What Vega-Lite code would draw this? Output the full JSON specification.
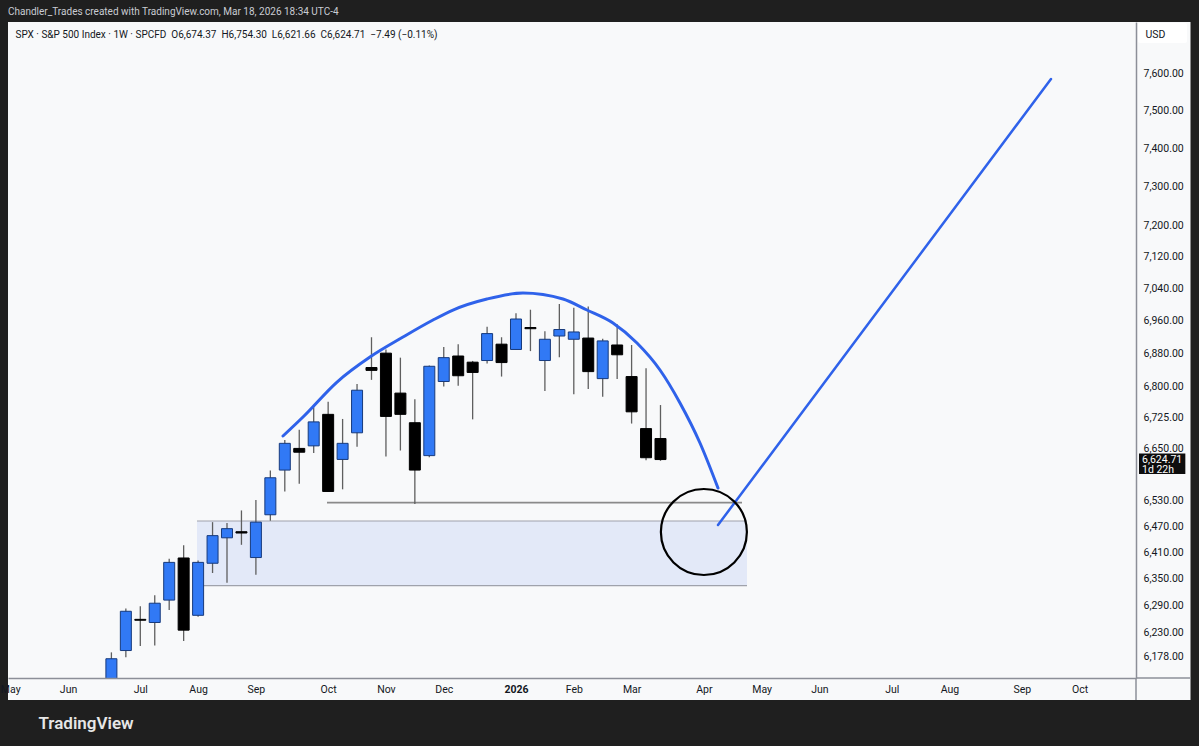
{
  "$schema": "https://vega.github.io/schema/vega-lite/v6.json",
  "width": 1128,
  "height": 656,
  "autosize": {"type": "none"},
  "padding": {"left": 8, "top": 22, "right": 63, "bottom": 68},
  "background": "#1f1f1f",
  "config": {"view": {"stroke": null}, "font": "Roboto"},
  "title": {
    "text": "Chandler_Trades created with TradingView.com, Mar 18, 2026 18:34 UTC-4",
    "subtitle": "\u200b\u00a0\u00a0\u00a0SPX · S&P 500 Index · 1W · SPCFD \u00a0O6,674.37 \u00a0H6,754.30 \u00a0L6,621.66 \u00a0C6,624.71 \u00a0−7.49 (−0.11%)",
    "anchor": "start",
    "frame": "group",
    "orient": "top",
    "offset": -18,
    "font": "Roboto",
    "fontSize": 10,
    "fontWeight": "normal",
    "color": "#c9ccd3",
    "subtitleFont": "Roboto",
    "subtitleFontSize": 10,
    "subtitleColor": "#131722",
    "subtitlePadding": 13
  },
  "datasets": {
    "candles": [
      {"d": "2025-06-23", "o": 5970, "h": 6186, "l": 5943, "c": 6172},
      {"d": "2025-06-30", "o": 6190, "h": 6283, "l": 6175, "c": 6277},
      {"d": "2025-07-07", "o": 6259, "h": 6288, "l": 6200, "c": 6257},
      {"d": "2025-07-14", "o": 6252, "h": 6313, "l": 6201, "c": 6295},
      {"d": "2025-07-21", "o": 6302, "h": 6395, "l": 6280, "c": 6387},
      {"d": "2025-07-28", "o": 6397, "h": 6426, "l": 6211, "c": 6235},
      {"d": "2025-08-04", "o": 6268, "h": 6391, "l": 6265, "c": 6387},
      {"d": "2025-08-11", "o": 6385, "h": 6479, "l": 6363, "c": 6448},
      {"d": "2025-08-18", "o": 6443, "h": 6477, "l": 6341, "c": 6464},
      {"d": "2025-08-25", "o": 6457, "h": 6506, "l": 6427, "c": 6454},
      {"d": "2025-09-01", "o": 6398, "h": 6530, "l": 6359, "c": 6479},
      {"d": "2025-09-08", "o": 6496, "h": 6599, "l": 6482, "c": 6582},
      {"d": "2025-09-15", "o": 6600, "h": 6671, "l": 6550, "c": 6663},
      {"d": "2025-09-22", "o": 6651, "h": 6695, "l": 6568, "c": 6642},
      {"d": "2025-09-29", "o": 6657, "h": 6749, "l": 6640, "c": 6714},
      {"d": "2025-10-06", "o": 6732, "h": 6762, "l": 6549, "c": 6550},
      {"d": "2025-10-13", "o": 6625, "h": 6721, "l": 6555, "c": 6663},
      {"d": "2025-10-20", "o": 6688, "h": 6805, "l": 6655, "c": 6790},
      {"d": "2025-10-27", "o": 6845, "h": 6919, "l": 6815, "c": 6838},
      {"d": "2025-11-03", "o": 6880, "h": 6889, "l": 6632, "c": 6727},
      {"d": "2025-11-10", "o": 6783, "h": 6869, "l": 6646, "c": 6732},
      {"d": "2025-11-17", "o": 6712, "h": 6768, "l": 6521, "c": 6600},
      {"d": "2025-11-24", "o": 6634, "h": 6850, "l": 6630, "c": 6848},
      {"d": "2025-12-01", "o": 6811, "h": 6895, "l": 6799, "c": 6869},
      {"d": "2025-12-08", "o": 6873, "h": 6902, "l": 6801, "c": 6825},
      {"d": "2025-12-15", "o": 6858, "h": 6861, "l": 6720, "c": 6833},
      {"d": "2025-12-22", "o": 6862, "h": 6945, "l": 6855, "c": 6928},
      {"d": "2025-12-29", "o": 6902, "h": 6919, "l": 6823, "c": 6857},
      {"d": "2026-01-05", "o": 6889, "h": 6978, "l": 6888, "c": 6964},
      {"d": "2026-01-12", "o": 6943, "h": 6987, "l": 6885, "c": 6940},
      {"d": "2026-01-19", "o": 6862, "h": 6934, "l": 6788, "c": 6914},
      {"d": "2026-01-26", "o": 6922, "h": 7001, "l": 6870, "c": 6938},
      {"d": "2026-02-02", "o": 6914, "h": 6992, "l": 6780, "c": 6932},
      {"d": "2026-02-09", "o": 6917, "h": 6995, "l": 6793, "c": 6835},
      {"d": "2026-02-16", "o": 6818, "h": 6915, "l": 6774, "c": 6910},
      {"d": "2026-02-23", "o": 6900, "h": 6951, "l": 6817, "c": 6876},
      {"d": "2026-03-02", "o": 6823, "h": 6900, "l": 6710, "c": 6738},
      {"d": "2026-03-09", "o": 6698, "h": 6843, "l": 6623, "c": 6629},
      {"d": "2026-03-16", "o": 6674.37, "h": 6754.30, "l": 6621.66, "c": 6624.71}
    ],
    "arc": [
      {"t": "2025-09-14T03:07:00Z", "p": 6680.4},
      {"t": "2025-09-23T19:41:00Z", "p": 6725.6},
      {"t": "2025-10-10T07:00:00Z", "p": 6809.8},
      {"t": "2025-10-26T06:29:00Z", "p": 6870.6},
      {"t": "2025-11-11T06:14:00Z", "p": 6919.5},
      {"t": "2025-11-25T19:00:00Z", "p": 6961.5},
      {"t": "2025-12-05T11:31:00Z", "p": 6986.3},
      {"t": "2025-12-21T22:48:00Z", "p": 7013.7},
      {"t": "2026-01-08T09:22:00Z", "p": 7028.6},
      {"t": "2026-01-27T18:29:00Z", "p": 7013.7},
      {"t": "2026-02-08T09:22:00Z", "p": 6986.3},
      {"t": "2026-02-20T23:46:00Z", "p": 6954.1},
      {"t": "2026-03-04T14:38:00Z", "p": 6904.8},
      {"t": "2026-03-15T18:14:00Z", "p": 6838.9},
      {"t": "2026-03-25T10:48:00Z", "p": 6759.2},
      {"t": "2026-04-04T03:07:00Z", "p": 6663.8},
      {"t": "2026-04-12T20:24:00Z", "p": 6558.1}
    ],
    "projection": [
      {"t": "2026-04-12T20:24:00Z", "p": 6472.4},
      {"t": "2026-09-21T04:00:00Z", "p": 7584.0}
    ],
    "zone": [
      {"t0": "2025-08-03T11:17:00Z", "t1": "2026-04-26T21:36:00Z", "p0": 6334.3, "p1": 6481.6}
    ],
    "zoneEdges": [
      {"t0": "2025-08-03T11:17:00Z", "t1": "2026-04-26T21:36:00Z", "p": 6481.6},
      {"t0": "2025-08-03T11:17:00Z", "t1": "2026-04-26T21:36:00Z", "p": 6334.3}
    ],
    "support": [
      {"t0": "2025-10-05T10:33:00Z", "t1": "2026-04-24T11:31:00Z", "p": 6524}
    ],
    "circle": [
      {"t": "2026-04-06T00:30:00Z", "p": 6456.3}
    ],
    "panel": [
      {"t0": "2025-05-03T21:50:00Z", "t1": "2026-11-27T18:00:00Z", "p0": 6082.2, "p1": 7739.2}
    ],
    "frameH": [
      {"t0": "2026-11-01T08:24:00Z", "t1": "2026-11-27T18:00:00Z", "p": 6129.9}
    ],
    "frameV": [
      {"t": "2026-11-01T08:24:00Z", "p0": 6082.2, "p1": 6129.9}
    ],
    "usdBox": [
      {"t0": "2026-11-02T07:26:00Z", "t1": "2026-11-26T01:26:00Z", "p0": 7681.7, "p1": 7736.5}
    ],
    "tagBox": [
      {"t0": "2026-11-02T19:12:00Z", "t1": "2026-11-25T06:00:00Z", "p0": 6591.0, "p1": 6639.0}
    ],
    "tagText": [
      {"t": "2026-11-04T06:00:00Z", "p": 6624.71, "txt": "6,624.71"},
      {"t": "2026-11-04T06:00:00Z", "p": 6600.2, "txt": "1d 22h"}
    ]
  },
  "layer": [
    {
      "data": {"name": "panel"},
      "mark": {"type": "rect", "fill": "#f8f9fa"},
      "encoding": {
        "x": {
          "field": "t0", "type": "temporal",
          "scale": {"type": "utc", "padding": 0, "domain": [{"year": 2025, "month": 5, "date": 3, "hours": 21, "minutes": 50, "utc": true}, {"year": 2026, "month": 11, "date": 1, "hours": 8, "minutes": 24, "utc": true}]},
          "axis": {
            "values": [
              {"year": 2025, "month": 5, "date": 5, "utc": true},
              {"year": 2025, "month": 6, "date": 2, "utc": true},
              {"year": 2025, "month": 7, "date": 7, "utc": true},
              {"year": 2025, "month": 8, "date": 4, "utc": true},
              {"year": 2025, "month": 9, "date": 1, "utc": true},
              {"year": 2025, "month": 10, "date": 6, "utc": true},
              {"year": 2025, "month": 11, "date": 3, "utc": true},
              {"year": 2025, "month": 12, "date": 1, "utc": true},
              {"year": 2026, "month": 1, "date": 5, "utc": true},
              {"year": 2026, "month": 2, "date": 2, "utc": true},
              {"year": 2026, "month": 3, "date": 2, "utc": true},
              {"year": 2026, "month": 4, "date": 6, "utc": true},
              {"year": 2026, "month": 5, "date": 4, "utc": true},
              {"year": 2026, "month": 6, "date": 1, "utc": true},
              {"year": 2026, "month": 7, "date": 6, "utc": true},
              {"year": 2026, "month": 8, "date": 3, "utc": true},
              {"year": 2026, "month": 9, "date": 7, "utc": true},
              {"year": 2026, "month": 10, "date": 5, "utc": true},
              {"year": 2026, "month": 11, "date": 2, "utc": true}
            ],
            "labelExpr": "utcmonth(datum.value) === 0 ? utcFormat(datum.value, '%Y') : utcFormat(datum.value, '%b')",
            "labelFontWeight": {"condition": {"test": "utcmonth(datum.value) === 0", "value": "bold"}, "value": "normal"},
            "ticks": false,
            "grid": false,
            "domainColor": "#8c8f98",
            "domainWidth": 1.5,
            "labelPadding": 6,
            "labelColor": "#131722",
            "labelFontSize": 10.5,
            "labelFont": "Roboto",
            "labelOverlap": false,
            "labelFlush": false,
            "title": "TradingView",
            "titleAlign": "left",
            "titleAnchor": "start",
            "titleBaseline": "middle",
            "titleX": 30,
            "titleY": 45,
            "titleFont": "Roboto",
            "titleFontSize": 17,
            "titleFontWeight": 600,
            "titleColor": "#e6e6e6",
            "zindex": 1
          }
        },
        "x2": {"field": "t1"},
        "y": {
          "field": "p0", "type": "quantitative",
          "scale": {"type": "log", "domain": [6129.9, 7739.2], "nice": false, "zero": false, "padding": 0},
          "axis": {
            "orient": "right",
            "values": [6178, 6230, 6290, 6350, 6410, 6470, 6530, 6650, 6725, 6800, 6880, 6960, 7040, 7120, 7200, 7300, 7400, 7500, 7600],
            "format": ",.2f",
            "ticks": false,
            "tickSize": 0,
            "grid": false,
            "domainColor": "#8c8f98",
            "domainWidth": 1.5,
            "labelAlign": "left",
            "labelPadding": 7,
            "labelFontSize": 10.5,
            "labelFont": "Roboto",
            "labelColor": "#131722",
            "labelOverlap": false,
            "title": "USD",
            "titleAngle": 0,
            "titleAlign": "left",
            "titleBaseline": "middle",
            "titleX": 9,
            "titleY": 12,
            "titleFont": "Roboto",
            "titleFontSize": 10.5,
            "titleFontWeight": "normal",
            "titleColor": "#131722",
            "zindex": 1
          }
        },
        "y2": {"field": "p1"}
      }
    },
    {
      "data": {"name": "usdBox"},
      "mark": {"type": "rect", "fill": "#ffffff", "cornerRadius": 2},
      "encoding": {
        "x": {"field": "t0", "type": "temporal"},
        "x2": {"field": "t1"},
        "y": {"field": "p0", "type": "quantitative"},
        "y2": {"field": "p1"}
      }
    },
    {
      "data": {"name": "frameH"},
      "mark": {"type": "rule", "color": "#8c8f98", "strokeWidth": 1.5},
      "encoding": {
        "x": {"field": "t0", "type": "temporal"},
        "x2": {"field": "t1"},
        "y": {"field": "p", "type": "quantitative"}
      }
    },
    {
      "data": {"name": "frameV"},
      "mark": {"type": "rule", "color": "#8c8f98", "strokeWidth": 1.5},
      "encoding": {
        "x": {"field": "t", "type": "temporal"},
        "y": {"field": "p0", "type": "quantitative"},
        "y2": {"field": "p1"}
      }
    },
    {
      "data": {"name": "zone"},
      "mark": {"type": "rect", "fill": "#e3e9f8"},
      "encoding": {
        "x": {"field": "t0", "type": "temporal"},
        "x2": {"field": "t1"},
        "y": {"field": "p0", "type": "quantitative"},
        "y2": {"field": "p1"}
      }
    },
    {
      "data": {"name": "zoneEdges"},
      "mark": {"type": "rule", "color": "#9fa2ab", "strokeWidth": 1.2},
      "encoding": {
        "x": {"field": "t0", "type": "temporal"},
        "x2": {"field": "t1"},
        "y": {"field": "p", "type": "quantitative"}
      }
    },
    {
      "data": {"name": "support"},
      "mark": {"type": "rule", "color": "#8a8a8a", "strokeWidth": 1.6},
      "encoding": {
        "x": {"field": "t0", "type": "temporal"},
        "x2": {"field": "t1"},
        "y": {"field": "p", "type": "quantitative"}
      }
    },
    {
      "data": {"name": "candles"},
      "mark": {"type": "rule", "color": "#5f5f5f", "strokeWidth": 1.3, "clip": true},
      "encoding": {
        "x": {"field": "d", "type": "temporal"},
        "y": {"field": "l", "type": "quantitative"},
        "y2": {"field": "h"}
      }
    },
    {
      "data": {"name": "candles"},
      "mark": {"type": "bar", "size": 11, "strokeWidth": 1, "clip": true},
      "encoding": {
        "x": {"field": "d", "type": "temporal"},
        "y": {"field": "o", "type": "quantitative"},
        "y2": {"field": "c"},
        "fill": {"condition": {"test": "datum.c >= datum.o", "value": "#3179f5"}, "value": "#000000"},
        "stroke": {"condition": {"test": "datum.c >= datum.o", "value": "#173a7c"}, "value": "#000000"}
      }
    },
    {
      "data": {"name": "arc"},
      "mark": {"type": "line", "color": "#2f62ea", "strokeWidth": 3, "interpolate": "monotone", "strokeCap": "round"},
      "encoding": {
        "x": {"field": "t", "type": "temporal"},
        "y": {"field": "p", "type": "quantitative"}
      }
    },
    {
      "data": {"name": "projection"},
      "mark": {"type": "line", "color": "#2f62ea", "strokeWidth": 2.5, "strokeCap": "round"},
      "encoding": {
        "x": {"field": "t", "type": "temporal"},
        "y": {"field": "p", "type": "quantitative"}
      }
    },
    {
      "data": {"name": "circle"},
      "mark": {"type": "point", "shape": "circle", "filled": false, "size": 7396, "stroke": "#000000", "strokeWidth": 2.2, "opacity": 1},
      "encoding": {
        "x": {"field": "t", "type": "temporal"},
        "y": {"field": "p", "type": "quantitative"}
      }
    },
    {
      "data": {"name": "tagBox"},
      "mark": {"type": "rect", "fill": "#0d0d0d"},
      "encoding": {
        "x": {"field": "t0", "type": "temporal"},
        "x2": {"field": "t1"},
        "y": {"field": "p0", "type": "quantitative"},
        "y2": {"field": "p1"}
      }
    },
    {
      "data": {"name": "tagText"},
      "mark": {"type": "text", "color": "#ffffff", "fontSize": 10.5, "font": "Roboto", "align": "left", "baseline": "middle"},
      "encoding": {
        "x": {"field": "t", "type": "temporal"},
        "y": {"field": "p", "type": "quantitative"},
        "text": {"field": "txt"}
      }
    }
  ]
}
